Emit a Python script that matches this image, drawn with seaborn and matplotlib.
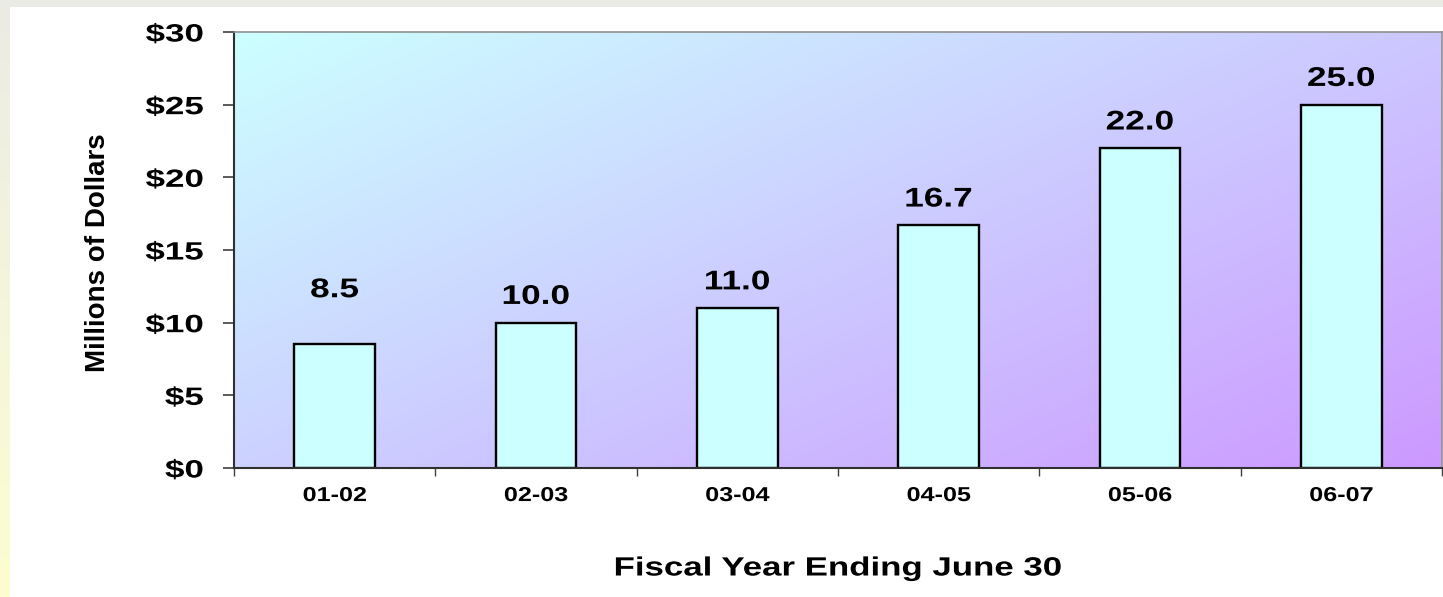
import numpy as np
import pandas as pd
import matplotlib
matplotlib.use("Agg")
import matplotlib.pyplot as plt
import seaborn as sns
from matplotlib.colors import LinearSegmentedColormap
from matplotlib.ticker import FixedLocator, FuncFormatter
from matplotlib.patheffects import AbstractPathEffect
from matplotlib.transforms import Affine2D

categories = ["01-02", "02-03", "03-04", "04-05", "05-06", "06-07"]
values = [8.5, 10.0, 11.0, 16.7, 22.0, 25.0]
value_labels = ["8.5", "10.0", "11.0", "16.7", "22.0", "25.0"]
y_ticks = [0, 5, 10, 15, 20, 25, 30]

# label offsets above bar tops (points) - the first label sits higher in the original
label_offsets_pt = [34, 13.5, 13.5, 13.5, 13.5, 13.5]


class HStretch(AbstractPathEffect):
    """Render text glyphs widened horizontally (the original uses a wide bold face)."""

    def __init__(self, sx=1.3, anchor="center"):
        super().__init__()
        self.sx = sx
        self.anchor = anchor

    def draw_path(self, renderer, gc, tpath, affine, rgbFace=None):
        ext = tpath.get_extents(affine)
        cx = {"left": ext.x0, "center": 0.5 * (ext.x0 + ext.x1), "right": ext.x1}[self.anchor]
        t = affine + Affine2D().translate(-cx, 0).scale(self.sx, 1).translate(cx, 0)
        renderer.draw_path(gc, tpath, t, rgbFace)


sns.set_theme(style="white")
plt.rcParams["font.family"] = ["Liberation Sans", "DejaVu Sans"]
plt.rcParams["font.weight"] = "bold"
plt.rcParams["text.color"] = "black"
plt.rcParams["axes.labelcolor"] = "black"
plt.rcParams["xtick.color"] = "black"
plt.rcParams["ytick.color"] = "black"

fig = plt.figure(figsize=(14.43, 5.97), dpi=100)
fig.patch.set_facecolor("white")

# outer decorative strips
bg = fig.add_axes([0, 0, 1, 1], zorder=-10)
bg.set_axis_off()
bg.set_xlim(0, 1443)
bg.set_ylim(597, 0)
bg.add_patch(plt.Rectangle((0, 0), 1443, 7, color="#ebebe5", lw=0))
ygrad = np.linspace(0, 1, 200).reshape(-1, 1)
ycmap = LinearSegmentedColormap.from_list("yl", ["#ebebe5", "#f5f5dc", "#fdfdd0"])
bg.imshow(ygrad, extent=[0, 10, 597, 0], cmap=ycmap, aspect="auto", zorder=0)

ax = fig.add_axes([234 / 1443, 1 - 468 / 597, 1208 / 1443, 436 / 597])

df = pd.DataFrame({"year": categories, "value": values})

# gradient background in axes coordinates (cyan top-left -> purple bottom-right)
gx, gy = np.meshgrid(np.linspace(0, 1, 300), np.linspace(0, 1, 300))
grad = gx * 0.55 + gy * 0.45
cmap = LinearSegmentedColormap.from_list("cp", ["#ccffff", "#ccccff", "#cc99ff"])
ax.imshow(grad, extent=[0, 1, 0, 1], transform=ax.transAxes, cmap=cmap,
          aspect="auto", origin="upper", zorder=0, vmin=0, vmax=1)

sns.barplot(data=df, x="year", y="value", ax=ax, color="#ccffff",
            edgecolor="black", linewidth=1.7, width=0.4, saturation=1, zorder=2)

for i, (v, lab, off) in enumerate(zip(values, value_labels, label_offsets_pt)):
    ax.annotate(lab, xy=(i, v), xytext=(0, off), textcoords="offset points",
                ha="center", va="baseline", fontsize=19.5, fontweight="bold",
                color="black", zorder=3,
                path_effects=[HStretch(1.3, "center")])

ax.set_xlim(-0.5, len(categories) - 0.5)
ax.set_ylim(0, 30)
ax.set_yticks(y_ticks)
ax.yaxis.set_major_formatter(FuncFormatter(lambda v, p: f"${int(v)}"))
ax.set_xticks(range(len(categories)))
ax.set_xticklabels(categories)
ax.xaxis.set_minor_locator(FixedLocator(np.arange(-0.5, len(categories), 1)))

ax.tick_params(axis="y", which="major", direction="out", length=8, width=1.2,
               color="#404040", labelsize=18, pad=14, left=True)
ax.tick_params(axis="x", which="major", length=0, labelsize=14.5, pad=13)
ax.tick_params(axis="x", which="minor", direction="out", length=6, width=1,
               color="#404040", bottom=True)
for lab in ax.get_yticklabels():
    lab.set_fontweight("bold")
    lab.set_color("black")
    lab.set_path_effects([HStretch(1.4, "right")])
for lab in ax.get_xticklabels():
    lab.set_fontweight("bold")
    lab.set_color("black")
    lab.set_path_effects([HStretch(1.25, "center")])

for side in ["left", "bottom"]:
    ax.spines[side].set_color("#303030")
    ax.spines[side].set_linewidth(1.5)
for side in ["top", "right"]:
    ax.spines[side].set_color("#909090")
    ax.spines[side].set_linewidth(1.2)

ax.set_xlabel("Fiscal Year Ending June 30", fontsize=19, fontweight="bold",
              color="black", path_effects=[HStretch(1.32, "center")])
ax.xaxis.set_label_coords(0.5, -0.203)
ax.set_ylabel("Millions of Dollars", fontsize=20, fontweight="bold", color="black")
ax.yaxis.set_label_coords(-0.102, 0.493)

fig.savefig("out.png", dpi=100)
